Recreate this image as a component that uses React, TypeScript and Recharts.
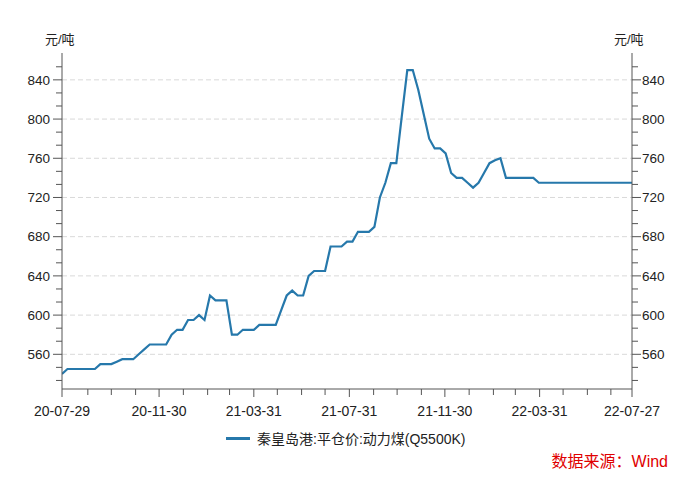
import { CartesianGrid, Line, LineChart, XAxis, YAxis } from 'recharts';

// 周度价格（每周三），起始 2020-07-29
const START = '2020-07-29';
const prices = [
  540, 545, 545, 545, 545, 545, 545, 550, 550, 550,
  552.5, 555, 555, 555, 560, 565, 570, 570, 570, 570,
  580, 585, 585, 595, 595, 600, 595, 620, 615, 615,
  615, 580, 580, 585, 585, 585, 590, 590, 590, 590,
  605, 620, 625, 620, 620, 640, 645, 645, 645, 670,
  670, 670, 675, 675, 685, 685, 685, 690, 720, 735,
  755, 755, 803, 850, 850, 830, 805, 780, 770, 770,
  765, 745, 740, 740, 735, 730, 735, 745, 755, 758,
  760, 740, 740, 740, 740, 740, 740, 735, 735, 735,
  735, 735, 735, 735, 735, 735, 735, 735, 735, 735,
  735, 735, 735, 735, 735,
];

const xTickDates = [
  '2020-07-29', '2020-08-31', '2020-09-30', '2020-10-31', '2020-11-30', '2020-12-31',
  '2021-01-31', '2021-02-28', '2021-03-31', '2021-04-30', '2021-05-31', '2021-06-30',
  '2021-07-31', '2021-08-31', '2021-09-30', '2021-10-31', '2021-11-30', '2021-12-31',
  '2022-01-31', '2022-02-28', '2022-03-31', '2022-04-30', '2022-05-31', '2022-06-30',
  '2022-07-27',
];
const xMajorDates = ['2020-07-29', '2020-11-30', '2021-03-31', '2021-07-31', '2021-11-30', '2022-03-31', '2022-07-27'];

const yMajorTicks = [560, 600, 640, 680, 720, 760, 800, 840];
const Y_DOMAIN = [524.6, 867.4];

const SERIES_NAME = '秦皇岛港:平仓价:动力煤(Q5500K)';
const UNIT = '元/吨';
const SOURCE = '数据来源：Wind';

const LINE_COLOR = '#2678ab';
const AXIS_COLOR = '#555';
const FONT = '"Liberation Sans", Arial, "Noto Sans CJK SC", sans-serif';

const toUtc = (s: string) => {
  const [y, m, d] = s.split('-').map(Number);
  return Date.UTC(y, m - 1, d);
};
const dayOf = (s: string) => Math.round((toUtc(s) - toUtc(START)) / 86400000);

const data = prices.map((p, i) => ({ t: i * 7, price: p }));

const xTicks = xTickDates.map(dayOf);
const xMajorDays = xMajorDates.map(dayOf);
const xLabel = (day: number) => {
  const s = xTickDates[xTicks.indexOf(day)] || '';
  return s.slice(2);
};

// 次刻度：每 40/3
const yMinorTicks: number[] = [];
for (let v = 560 - 80 / 3; v < 860; v += 40 / 3) {
  if (!yMajorTicks.some((m) => Math.abs(m - v) < 0.1)) yMinorTicks.push(Number(v.toFixed(3)));
}
const yTicks = [...yMajorTicks, ...yMinorTicks].sort((a, b) => a - b);
const isMajorY = (v: number) => yMajorTicks.some((m) => Math.abs(m - v) < 0.1);

const LeftTick = ({ x, y, payload }: any) => {
  const major = isMajorY(payload.value);
  return (
    <g>
      <line x1={x} x2={x - (major ? 9 : 6)} y1={y} y2={y} stroke={AXIS_COLOR} />
      {major && (
        <text x={x - 12} y={y} dy="0.35em" textAnchor="end" fontSize={13.5} fill="#222" fontFamily={FONT}>
          {payload.value}
        </text>
      )}
    </g>
  );
};

const RightTick = ({ x, y, payload }: any) => {
  const major = isMajorY(payload.value);
  return (
    <g>
      <line x1={x} x2={x + (major ? 9 : 6)} y1={y} y2={y} stroke={AXIS_COLOR} />
      {major && (
        <text x={x + 10} y={y} dy="0.35em" textAnchor="start" fontSize={13.5} fill="#222" fontFamily={FONT}>
          {payload.value}
        </text>
      )}
    </g>
  );
};

const BottomTick = ({ x, y, payload }: any) => {
  const major = xMajorDays.includes(payload.value);
  return (
    <g>
      <line x1={x} x2={x} y1={y} y2={y + (major ? 8 : 6)} stroke={AXIS_COLOR} />
      {major && (
        <text x={x} y={y + 22} dy="0.35em" textAnchor="middle" fontSize={14} fill="#222" fontFamily={FONT}>
          {xLabel(payload.value)}
        </text>
      )}
    </g>
  );
};

export default function App() {
  return (
    <div style={{ position: 'fixed', left: 0, top: 0, width: 692, height: 477, background: '#fff', fontFamily: FONT }}>
      <LineChart width={692} height={477} data={data} margin={{ top: 53, right: 0, bottom: 0, left: 0 }}>
        <CartesianGrid
          yAxisId="left"
          vertical={false}
          horizontalValues={yMajorTicks}
          stroke="#d9d9d9"
          strokeDasharray="5 3"
        />
        <XAxis
          dataKey="t"
          type="number"
          domain={[0, dayOf('2022-07-27')]}
          ticks={xTicks}
          interval={0}
          height={88}
          tickSize={0}
          tickMargin={0}
          tickLine={false}
          axisLine={{ stroke: AXIS_COLOR }}
          tick={<BottomTick />}
          allowDataOverflow
        />
        <YAxis
          yAxisId="left"
          type="number"
          domain={Y_DOMAIN}
          ticks={yTicks}
          interval={0}
          width={62}
          tickSize={0}
          tickMargin={0}
          tickLine={false}
          axisLine={{ stroke: AXIS_COLOR }}
          tick={<LeftTick />}
          allowDataOverflow
        />
        <YAxis
          yAxisId="right"
          orientation="right"
          type="number"
          domain={Y_DOMAIN}
          ticks={yTicks}
          interval={0}
          width={60}
          tickSize={0}
          tickMargin={0}
          tickLine={false}
          axisLine={{ stroke: AXIS_COLOR }}
          tick={<RightTick />}
          allowDataOverflow
        />
        <Line
          yAxisId="left"
          dataKey="price"
          name={SERIES_NAME}
          type="linear"
          stroke={LINE_COLOR}
          strokeWidth={2.2}
          dot={false}
          activeDot={false}
          isAnimationActive={false}
        />
      </LineChart>

      <div style={{ position: 'absolute', left: 45, top: 29, fontSize: 13, color: '#222' }}>{UNIT}</div>
      <div style={{ position: 'absolute', left: 614, top: 29, fontSize: 13, color: '#222' }}>{UNIT}</div>

      <div style={{ position: 'absolute', left: 226, top: 428, display: 'flex', alignItems: 'center', fontSize: 14, color: '#222' }}>
        <span style={{ display: 'inline-block', width: 24, height: 3, background: LINE_COLOR, marginRight: 7 }} />
        <span>{SERIES_NAME}</span>
      </div>

      <div style={{ position: 'absolute', right: 24, top: 448, fontSize: 16, color: '#e00000' }}>{SOURCE}</div>
    </div>
  );
}
